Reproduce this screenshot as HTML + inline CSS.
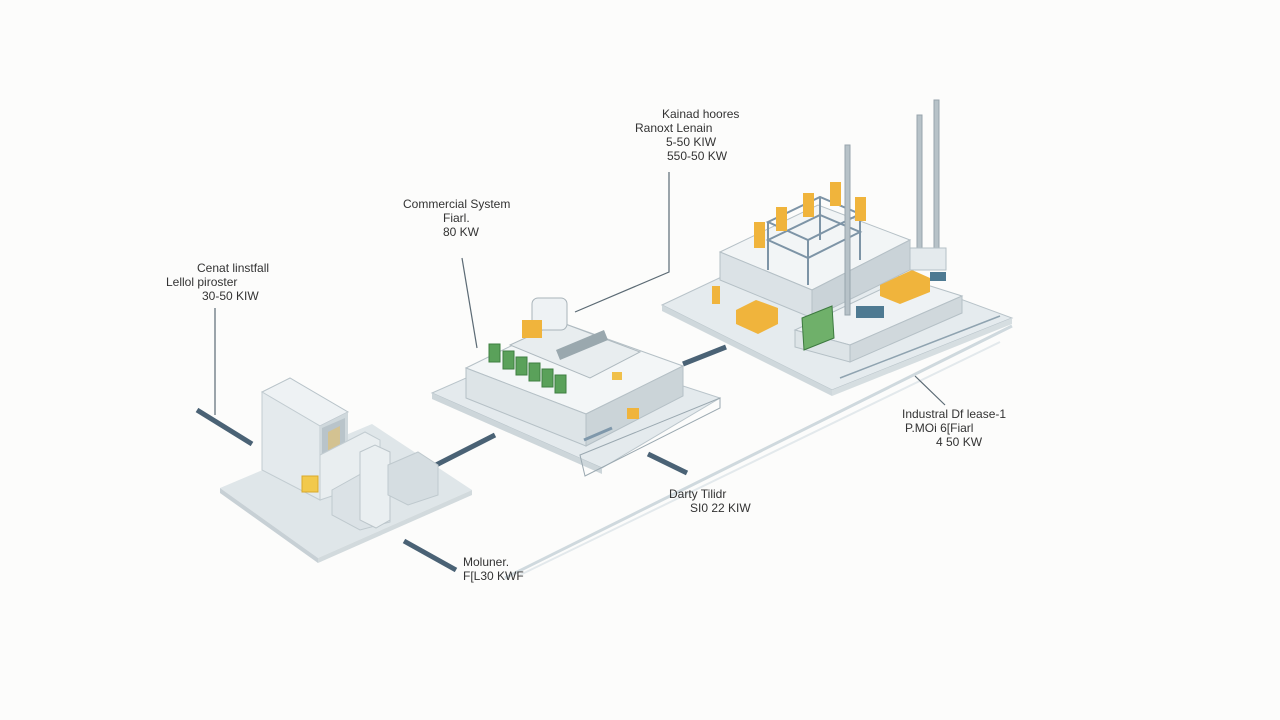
<!DOCTYPE html>
<html><head><meta charset="utf-8"><style>
html,body{margin:0;padding:0;background:#fcfcfb;}
svg{display:block}
text{font-family:"Liberation Sans",sans-serif;font-size:12px;fill:#333;}
</style></head><body>
<svg width="1280" height="720" viewBox="0 0 1280 720">
<rect width="1280" height="720" fill="#fcfcfb"/>
<polyline points="505,578 1012,326" stroke="#cfd9de" stroke-width="3" fill="none"/>
<polyline points="520,575 1000,342" stroke="#e3e9ec" stroke-width="2" fill="none"/>
<g stroke="#5b6a74" stroke-width="1.2" fill="none">
<line x1="215" y1="308" x2="215" y2="415"/>
<line x1="462" y1="258" x2="477" y2="348"/>
<polyline points="669,172 669,272 575,312"/>
<line x1="915" y1="376" x2="945" y2="405"/>
</g>
<g stroke="#4a6275" stroke-width="5" stroke-linecap="butt">
<line x1="197" y1="410" x2="252" y2="444"/>
<line x1="404" y1="541" x2="456" y2="570"/>
<line x1="436" y1="465" x2="495" y2="435"/>
<line x1="648" y1="454" x2="687" y2="473"/>
<line x1="683" y1="364" x2="726" y2="347"/>
</g>

<!-- LEFT platform -->
<polygon points="220,488 372,424 472,490 318,558" fill="#dfe6e9"/>
<polygon points="220,488 318,558 318,563 220,493" fill="#c7d0d5"/>
<polygon points="318,558 472,490 472,495 318,563" fill="#d2dadd"/>
<polygon points="262,392 290,378 348,412 320,426" fill="#eef2f4" stroke="#b8c3c9"/>
<polygon points="262,392 320,426 320,500 262,470" fill="#e4eaed" stroke="#c2ccd1"/>
<polygon points="320,426 348,412 348,480 320,500" fill="#cfd8dc"/>
<polygon points="322,428 345,418 345,448 322,458" fill="#b9c4ca"/>
<polygon points="328,432 340,426 340,446 328,451" fill="#e4c16a" opacity=".6"/>
<polygon points="320,455 365,432 380,440 380,470 335,495 320,500" fill="#e9eef0" stroke="#c2ccd1"/>
<polygon points="332,490 368,470 390,482 390,522 360,530 332,515" fill="#dbe2e6" stroke="#bfc9ce"/>
<polygon points="360,452 375,445 390,452 390,520 376,528 360,520" fill="#eaeff1" stroke="#bcc6cb"/>
<polygon points="388,465 418,452 438,465 438,495 408,505 388,495" fill="#d5dde1" stroke="#bfc9ce"/>
<rect x="302" y="476" width="16" height="16" fill="#f2c94c" stroke="#d9a92b"/>

<!-- MIDDLE platform -->
<polygon points="432,393 548,342 720,398 602,468" fill="#e4eaed" stroke="#b9c4ca"/>
<polygon points="432,393 602,468 602,474 432,399" fill="#cdd6da"/>
<polygon points="580,455 720,398 720,408 585,476" fill="none" stroke="#9aa8b0"/>
<polygon points="466,368 560,322 683,366 586,414" fill="#f3f6f7" stroke="#b5c0c6"/>
<polygon points="466,368 586,414 586,446 466,398" fill="#dde4e7" stroke="#b5c0c6"/>
<polygon points="586,414 683,366 683,396 586,446" fill="#cbd4d8" stroke="#b5c0c6"/>
<polygon points="510,345 560,322 640,352 590,378" fill="#e8edef" stroke="#aeb9bf"/>
<polygon points="556,350 604,330 608,340 560,360" fill="#9aa8ae"/>
<rect x="532" y="298" width="35" height="32" rx="6" fill="#eef2f4" stroke="#a9b4ba"/>
<rect x="522" y="320" width="20" height="18" fill="#f0b43c"/>
<g fill="#5aa15a" stroke="#3e7f40">
<rect x="489" y="344" width="11" height="18"/>
<rect x="503" y="351" width="11" height="18"/>
<rect x="516" y="357" width="11" height="18"/>
<rect x="529" y="363" width="11" height="18"/>
<rect x="542" y="369" width="11" height="18"/>
<rect x="555" y="375" width="11" height="18"/>
<rect x="612" y="372" width="10" height="8" fill="#f0c04a" stroke="none"/>
</g>
<rect x="627" y="408" width="12" height="11" fill="#f0b43c"/>
<line x1="584" y1="440" x2="612" y2="428" stroke="#7f98ab" stroke-width="3"/>

<!-- RIGHT platform -->
<polygon points="662,305 800,240 1012,318 832,390" fill="#e5ebee" stroke="#b8c3c9"/>
<polygon points="662,305 832,390 832,396 662,311" fill="#cfd8dc"/>
<polygon points="832,390 1012,318 1012,324 832,396" fill="#d6dee1"/>
<line x1="840" y1="378" x2="1000" y2="316" stroke="#8fa3b0" stroke-width="1.5"/>
<polygon points="720,252 818,205 910,240 812,290" fill="#f2f5f6" stroke="#b5c0c6"/>
<polygon points="720,252 812,290 812,318 720,280" fill="#dbe2e6" stroke="#b5c0c6"/>
<polygon points="812,290 910,240 910,270 812,318" fill="#cad3d8" stroke="#b5c0c6"/>
<g stroke="#7d94a6" stroke-width="2" fill="none">
<polygon points="768,240 820,215 860,232 808,258"/>
<polygon points="768,222 820,197 860,214 808,240"/>
<line x1="768" y1="222" x2="768" y2="270"/><line x1="808" y1="240" x2="808" y2="285"/><line x1="820" y1="197" x2="820" y2="240"/><line x1="860" y1="214" x2="860" y2="260"/>
</g>
<g fill="#f0b43c">
<rect x="754" y="222" width="11" height="26"/><rect x="776" y="207" width="11" height="24"/><rect x="803" y="193" width="11" height="24"/><rect x="830" y="182" width="11" height="24"/><rect x="855" y="197" width="11" height="24"/>
<rect x="712" y="286" width="8" height="18"/>
<polygon points="736,310 756,300 778,308 778,324 758,334 736,324" fill="#f0b43c"/>
</g>
<!-- front lower box -->
<polygon points="795,330 905,278 962,296 850,345" fill="#eef2f4" stroke="#b5c0c6"/>
<polygon points="795,330 850,345 850,362 795,347" fill="#dde4e7" stroke="#b5c0c6"/>
<polygon points="850,345 962,296 962,313 850,362" fill="#d0d8dc" stroke="#b5c0c6"/>
<polygon points="802,318 832,306 834,338 804,350" fill="#6fb06a" stroke="#3c7a3f"/>
<polygon points="880,285 912,270 930,278 930,292 900,304 880,296" fill="#f0b43c"/>
<rect x="856" y="306" width="28" height="12" fill="#4e7a92"/>
<rect x="930" y="272" width="16" height="9" fill="#4e7a92"/>
<g fill="#b7c2c8" stroke="#97a4ac">
<rect x="845" y="145" width="5" height="170"/>
<rect x="917" y="115" width="5" height="150"/>
<rect x="934" y="100" width="5" height="150"/>
</g>
<rect x="910" y="248" width="36" height="22" fill="#e4eaed" stroke="#b5c0c6"/>

<text x="197" y="272">Cenat linstfall</text>
<text x="166" y="286">Lellol piroster</text>
<text x="202" y="300">30-50 KIW</text>
<text x="403" y="208">Commercial System</text>
<text x="443" y="222">Fiarl.</text>
<text x="443" y="236">80 KW</text>
<text x="662" y="118">Kainad hoores</text>
<text x="635" y="132">Ranoxt Lenain</text>
<text x="666" y="146">5-50 KIW</text>
<text x="667" y="160">550-50 KW</text>
<text x="902" y="418">Industral Df lease-1</text>
<text x="905" y="432">P.MOi 6[Fiarl</text>
<text x="936" y="446">4 50 KW</text>
<text x="669" y="498">Darty Tilidr</text>
<text x="690" y="512">SI0 22 KIW</text>
<text x="463" y="566">Moluner.</text>
<text x="463" y="580">F[L30 KWF</text>
</svg>
</body></html>
